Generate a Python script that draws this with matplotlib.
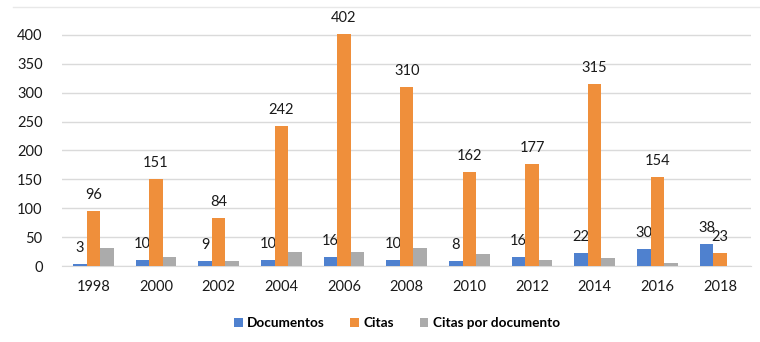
import matplotlib
matplotlib.use("Agg")
import matplotlib.pyplot as plt
import numpy as np
from matplotlib.lines import Line2D

years = ["1998", "2000", "2002", "2004", "2006", "2008", "2010", "2012", "2014", "2016", "2018"]
documentos = [3, 10, 9, 10, 16, 10, 8, 16, 22, 30, 38]
citas = [96, 151, 84, 242, 402, 310, 162, 177, 315, 154, 23]
citas_por_doc = [32, 15.1, 9.3, 24.2, 25.1, 31, 20.3, 11.1, 14.3, 5.1, 0.6]
series_names = ["Documentos", "Citas", "Citas por documento"]
colors = ["#4F81CF", "#EF8F3B", "#ABABAB"]

plt.rcParams['font.family'] = ['Lato', 'DejaVu Sans']

fig = plt.figure(figsize=(7.6, 3.42), dpi=100)
ax = fig.add_axes([0.0816, 0.222, 0.907, 0.71])

x = np.arange(len(years))
w = 0.215
series = [documentos, citas, citas_por_doc]
for i, (vals, name, c) in enumerate(zip(series, series_names, colors)):
    bars = ax.bar(x + (i - 1) * w, vals, w, color=c, label=name, zorder=3, clip_on=False)
    if i < 2:
        for b, v in zip(bars, vals):
            ax.annotate(str(v), (b.get_x() + b.get_width() / 2, b.get_height()),
                        xytext=(0, 11.5), textcoords="offset points", ha="center", va="center",
                        fontsize=10.5, color="#1A1A1A")

ax.set_xlim(-0.5, len(years) - 0.5)
ax.set_ylim(0, 420)
ax.set_yticks(range(0, 401, 50))
ax.set_xticks(x)
ax.set_xticklabels(years)
ax.tick_params(length=0, labelsize=10.5, colors="#1A1A1A")
ax.tick_params(axis='y', pad=14)
ax.tick_params(axis='x', pad=10)
ax.yaxis.grid(True, color="#DADADA", linewidth=1, zorder=0)
ax.set_axisbelow(True)
for s in ["top", "right", "left"]:
    ax.spines[s].set_visible(False)
ax.spines["bottom"].set_color("#DADADA")

fig.add_artist(Line2D([0.017, 1.0], [0.98, 0.98], color="#E8E8E8", linewidth=1))

leg = fig.legend(loc="center", bbox_to_anchor=(0.522, 0.055), ncol=3, frameon=False,
                 handlelength=0.65, handleheight=0.65, handletextpad=0.3, columnspacing=1.9,
                 prop={'weight': 'bold', 'size': 9.8})

fig.savefig("out.png", dpi=100)
